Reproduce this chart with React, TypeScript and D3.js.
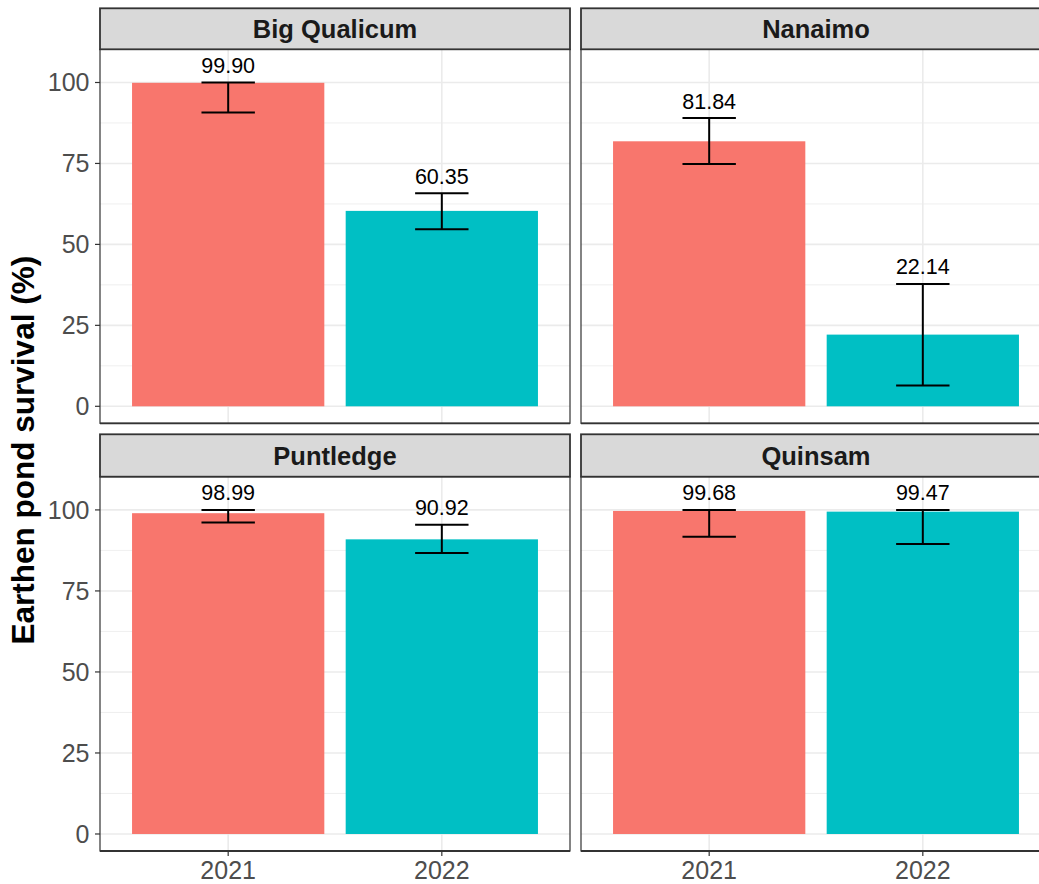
import React from "react";
import * as d3 from "d3";

const sites = ["Big Qualicum", "Nanaimo", "Puntledge", "Quinsam"];
const years = ["2021", "2022"];
const survival2021 = [99.9, 81.84, 98.99, 99.68];
const survival2022 = [60.35, 22.14, 90.92, 99.47];
const lower2021 = [90.7, 74.8, 96.1, 91.7];
const upper2021 = [100, 89.0, 100, 100];
const lower2022 = [54.7, 6.4, 86.7, 89.5];
const upper2022 = [65.8, 37.8, 95.4, 100];
const yTicks = [0, 25, 50, 75, 100];
const yMinor = [12.5, 37.5, 62.5, 87.5];
const yearColors = ["#F8766D", "#00BFC4"];

const W = 1039;
const H = 884;
const FONT = "'Liberation Sans', Arimo, Helvetica, Arial, sans-serif";

// facet grid geometry
const colX = [
  [100, 570],
  [581, 1051],
];
const rowY = [
  { stripTop: 8.3, top: 49.3, bottom: 423.3 },
  { stripTop: 434.3, top: 476.7, bottom: 851 },
];

type Row = { year: string; value: number; lo: number; hi: number };

function rowsFor(i: number): Row[] {
  return [
    { year: years[0], value: survival2021[i], lo: lower2021[i], hi: upper2021[i] },
    { year: years[1], value: survival2022[i], lo: lower2022[i], hi: upper2022[i] },
  ];
}

function Panel({ index }: { index: number }) {
  const col = index % 2;
  const row = Math.floor(index / 2);
  const [x0, x1] = colX[col];
  const { stripTop, top, bottom } = rowY[row];
  const x = d3
    .scaleBand<string>()
    .domain(years)
    .range([x0, x1])
    .paddingInner(0.1)
    .paddingOuter(0.15);
  const y = d3.scaleLinear().domain([-5.25, 110.25]).range([bottom, top]);
  const step = x.step();
  const bw = x.bandwidth();
  const cap = step * 0.25;
  const data = rowsFor(index);
  const isBottom = row === 1;
  const isLeft = col === 0;

  return (
    <g>
      {/* panel background + grid */}
      <rect x={x0} y={top} width={x1 - x0} height={bottom - top} fill="#fff" />
      {yMinor.map((t) => (
        <line key={"mi" + t} x1={x0} x2={x1} y1={y(t)} y2={y(t)} stroke="#EBEBEB" strokeWidth={0.8} />
      ))}
      {yTicks.map((t) => (
        <line key={"ma" + t} x1={x0} x2={x1} y1={y(t)} y2={y(t)} stroke="#EBEBEB" strokeWidth={1.6} />
      ))}
      {years.map((yr) => {
        const cx = (x(yr) as number) + bw / 2;
        return <line key={"vg" + yr} x1={cx} x2={cx} y1={top} y2={bottom} stroke="#EBEBEB" strokeWidth={1.6} />;
      })}

      {/* bars */}
      {data.map((d, i) => (
        <rect
          key={"b" + d.year}
          x={x(d.year) as number}
          width={bw}
          y={y(d.value)}
          height={y(0) - y(d.value)}
          fill={yearColors[i]}
        />
      ))}

      {/* error bars */}
      {data.map((d) => {
        const cx = (x(d.year) as number) + bw / 2;
        return (
          <g key={"e" + d.year} stroke="#000" strokeWidth={2}>
            <line x1={cx} x2={cx} y1={y(d.hi)} y2={y(d.lo)} />
            <line x1={cx - cap / 2} x2={cx + cap / 2} y1={y(d.hi)} y2={y(d.hi)} />
            <line x1={cx - cap / 2} x2={cx + cap / 2} y1={y(d.lo)} y2={y(d.lo)} />
          </g>
        );
      })}

      {/* value labels */}
      {data.map((d) => {
        const cx = (x(d.year) as number) + bw / 2;
        return (
          <text
            key={"t" + d.year}
            x={cx}
            y={y(d.hi) - 9.5}
            textAnchor="middle"
            fontFamily={FONT}
            fontSize={21.5}
            fill="#000"
          >
            {d.value.toFixed(2)}
          </text>
        );
      })}

      {/* panel border */}
      <rect x={x0} y={top} width={x1 - x0} height={bottom - top} fill="none" stroke="#333" strokeWidth={1.2} />
      <line x1={x0} x2={x1} y1={bottom} y2={bottom} stroke="#333" strokeWidth={1.8} />

      {/* strip */}
      <rect
        x={x0}
        y={stripTop}
        width={x1 - x0}
        height={top - stripTop}
        fill="#D9D9D9"
        stroke="#333"
        strokeWidth={1.8}
      />
      <text
        x={(x0 + x1) / 2}
        y={(stripTop + top) / 2}
        dy="0.36em"
        textAnchor="middle"
        fontFamily={FONT}
        fontWeight="bold"
        fontSize={25.5}
        fill="#1A1A1A"
      >
        {sites[index]}
      </text>

      {/* y axis */}
      {isLeft &&
        yTicks.map((t) => (
          <g key={"yt" + t}>
            <line x1={x0 - 5} x2={x0} y1={y(t)} y2={y(t)} stroke="#333" strokeWidth={1.2} />
            <text
              x={x0 - 10.5}
              y={y(t)}
              dy="0.36em"
              textAnchor="end"
              fontFamily={FONT}
              fontSize={25}
              fill="#4D4D4D"
            >
              {t}
            </text>
          </g>
        ))}

      {/* x axis */}
      {isBottom &&
        years.map((yr) => {
          const cx = (x(yr) as number) + bw / 2;
          return (
            <g key={"xt" + yr}>
              <line x1={cx} x2={cx} y1={bottom} y2={bottom + 5} stroke="#333" strokeWidth={1.2} />
              <text x={cx} y={bottom + 27.5} textAnchor="middle" fontFamily={FONT} fontSize={25} fill="#4D4D4D">
                {yr}
              </text>
            </g>
          );
        })}
    </g>
  );
}

export default function App() {
  return (
    <svg
      width={W}
      height={H}
      viewBox={`0 0 ${W} ${H}`}
      style={{ position: "fixed", left: 0, top: 0, display: "block", background: "#fff" }}
    >
      <rect width={W} height={H} fill="#fff" />
      {sites.map((s, i) => (
        <Panel key={s} index={i} />
      ))}
      <text
        transform={`translate(33.5, ${(rowY[0].top + rowY[1].bottom) / 2}) rotate(-90)`}
        textAnchor="middle"
        fontFamily={FONT}
        fontWeight="bold"
        fontSize={31.5}
        fill="#000"
      >
        Earthen pond survival (%)
      </text>
    </svg>
  );
}
